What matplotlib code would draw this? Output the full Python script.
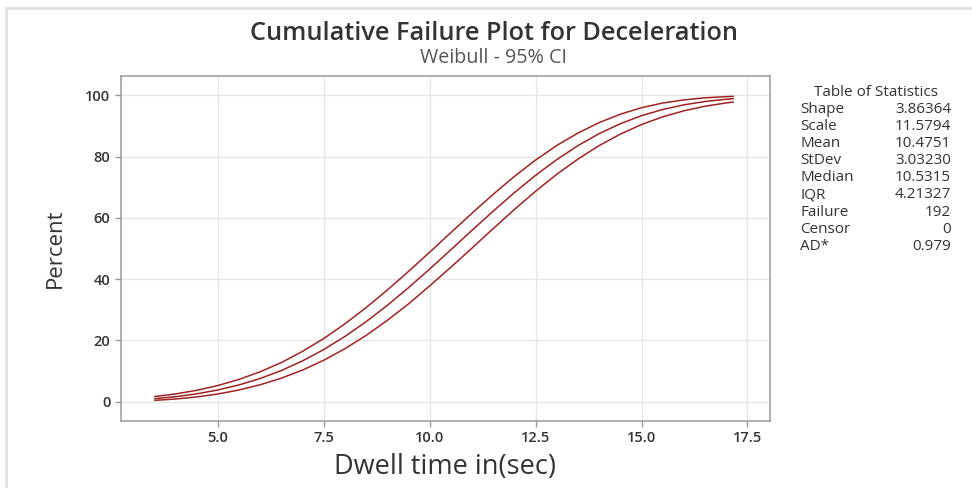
import matplotlib
matplotlib.use("Agg")
import matplotlib.pyplot as plt
from matplotlib.lines import Line2D

# Dwell time (sec) and cumulative failure percent: fitted curve and 95% CI bounds
dwell_time = [3.5, 4.0, 4.5, 5.0, 5.5, 6.0, 6.5, 7.0, 7.5, 8.0, 8.5, 9.0, 9.5, 10.0,
              10.5, 11.0, 11.5, 12.0, 12.5, 13.0, 13.5, 14.0, 14.5, 15.0, 15.5, 16.0,
              16.5, 17.0, 17.18]
pct_fit = [0.98, 1.63, 2.56, 3.82, 5.48, 7.58, 10.18, 13.33, 17.03, 21.30, 26.13, 31.45,
           37.22, 43.31, 49.61, 55.97, 62.23, 68.27, 73.92, 79.07, 83.63, 87.54, 90.79,
           93.41, 95.43, 96.95, 98.04, 98.78, 98.98]
pct_upper = [1.68, 2.53, 3.71, 5.27, 7.28, 9.78, 12.78, 16.43, 20.63, 25.40, 30.73, 36.45,
             42.52, 48.81, 55.21, 61.57, 67.73, 73.57, 78.92, 83.67, 87.73, 91.14, 93.89,
             96.01, 97.53, 98.55, 99.24, 99.63, 99.73]
pct_lower = [0.43, 0.88, 1.56, 2.52, 3.83, 5.53, 7.68, 10.33, 13.53, 17.30, 21.63, 26.55,
             31.92, 37.81, 43.91, 50.17, 56.53, 62.77, 68.72, 74.27, 79.23, 83.64, 87.39,
             90.51, 93.03, 95.00, 96.49, 97.58, 97.88]

x_ticks = [5.0, 7.5, 10.0, 12.5, 15.0, 17.5]
y_ticks = [0, 20, 40, 60, 80, 100]

stat_names = ["Shape", "Scale", "Mean", "StDev", "Median", "IQR", "Failure", "Censor", "AD*"]
stat_values = ["3.86364", "11.5794", "10.4751", "3.03230", "10.5315", "4.21327", "192", "0", "0.979"]

plt.rcParams["font.family"] = ["Open Sans", "DejaVu Sans"]

W, H = 972, 488
fig = plt.figure(figsize=(W / 100, H / 100), dpi=100)
fig.patch.set_facecolor("white")

# panel border
fig.add_artist(Line2D([6 / W, 1], [1 - 8 / H, 1 - 8 / H], color="#e2e2e2", lw=2,
                      transform=fig.transFigure))
fig.add_artist(Line2D([6 / W, 6 / W], [0, 1 - 8 / H], color="#e2e2e2", lw=2,
                      transform=fig.transFigure))

left, right, top, bottom = 120.7, 769.5, 76.5, 420.7
ax = fig.add_axes([left / W, 1 - bottom / H, (right - left) / W, (bottom - top) / H])

line_color = "#a02222"
for series in (pct_upper, pct_fit, pct_lower):
    ax.plot(dwell_time, series, color=line_color, lw=1.1, solid_capstyle="butt", zorder=3)

ax.set_xlim(2.71, 18.02)
ax.set_ylim(-6.2, 106.2)
ax.set_xticks(x_ticks)
ax.set_xticklabels([f"{v:.1f}" for v in x_ticks])
ax.set_yticks(y_ticks)
ax.grid(True, color="#e6e6e6", lw=1.0, zorder=0)
ax.set_axisbelow(True)
for s in ax.spines.values():
    s.set_color("#9a9a9a")
    s.set_linewidth(1.1)
ax.tick_params(axis="both", direction="out", length=4, width=1, color="#9a9a9a",
               labelsize=10.5, labelcolor="#333333")
for lab in ax.get_xticklabels() + ax.get_yticklabels():
    lab.set_fontweight("semibold")

ax.set_xlabel("Dwell time in(sec)", fontsize=19.5, color="#333333", labelpad=6)
ax.set_ylabel("Percent", fontsize=16, color="#333333", labelpad=14)

fig.text(494 / W, 1 - 33 / H, "Cumulative Failure Plot for Deceleration", ha="center",
         va="center", fontsize=18.2, fontweight="semibold", color="#333333")
fig.text(494 / W, 1 - 58 / H, "Weibull - 95% CI", ha="center", va="center",
         fontsize=14.2, color="#555555")

# table of statistics
fs_tab = 11
fig.text(876 / W, 1 - 92 / H, "Table of Statistics", ha="center", va="center",
         fontsize=fs_tab, color="#333333")
for i, (name, val) in enumerate(zip(stat_names, stat_values)):
    y = 1 - (109.5 + i * 17.1) / H
    fig.text(800 / W, y, name, ha="left", va="center", fontsize=fs_tab, color="#333333")
    fig.text(951 / W, y, val, ha="right", va="center", fontsize=fs_tab, color="#333333")

fig.savefig("out.png", dpi=100, facecolor="white")
